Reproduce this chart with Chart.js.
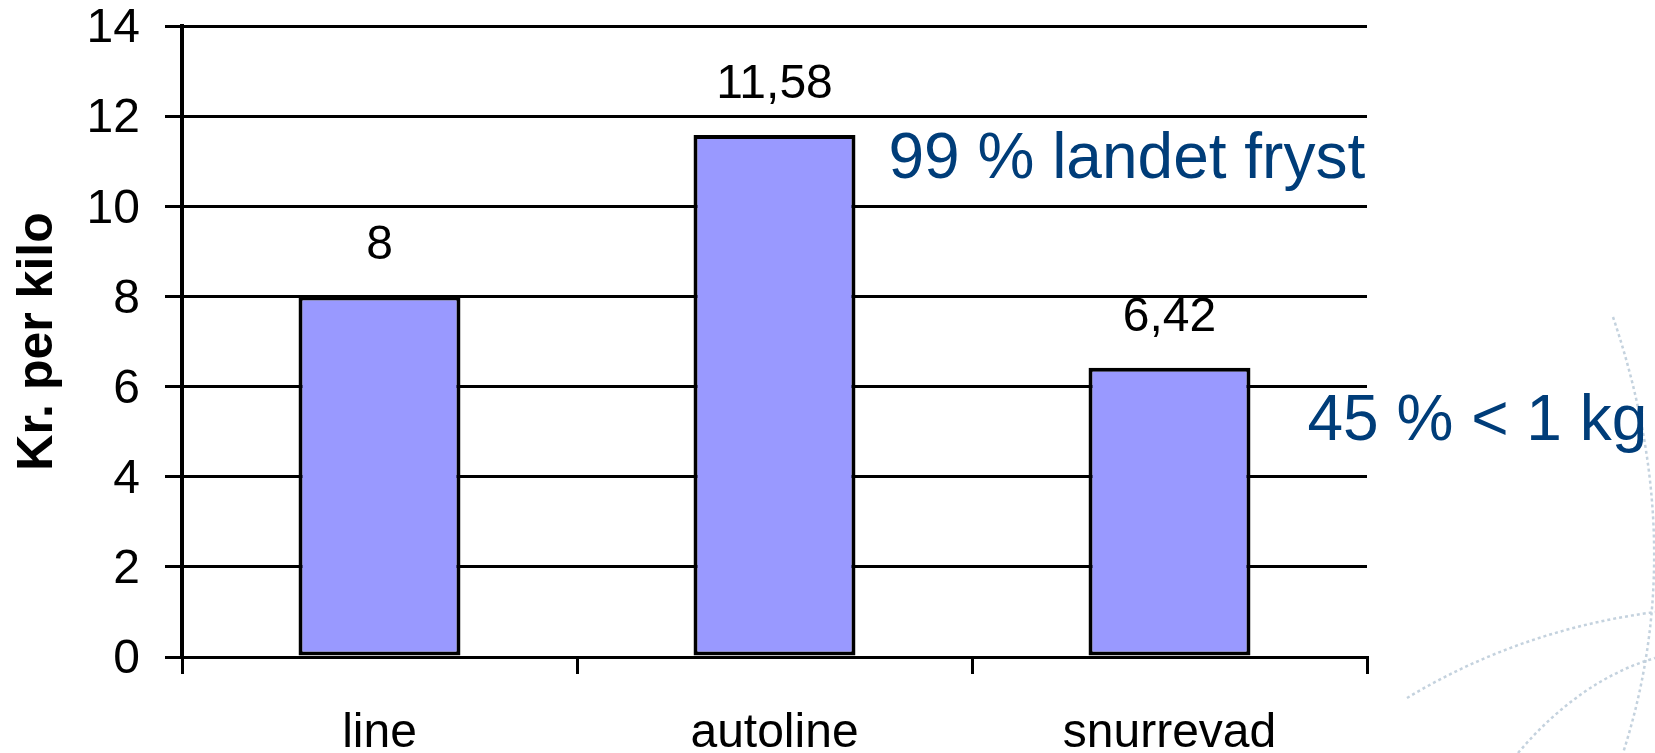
<!DOCTYPE html>
<html>
<head>
<meta charset="utf-8">
<script src="https://cdn.jsdelivr.net/npm/chart.js@4/dist/chart.umd.min.js"></script>
<style>
  html, body { margin: 0; padding: 0; background: #fff; }
</style>
</head>
<body>
<canvas id="barChart" width="1655" height="753"></canvas>
<script>
var categories = ["line", "autoline", "snurrevad"];
var values = [8, 11.58, 6.42];
var yTicks = [0, 2, 4, 6, 8, 10, 12, 14];
var notes = ["99 % landet fryst", "45 % < 1 kg"];

var FONT = "'Liberation Sans', Arial, sans-serif";

// faint dotted globe lines from the slide background
var backdrop = {
  id: "backdrop",
  beforeDraw: function(chart) {
    var ctx = chart.ctx;
    ctx.save();
    ctx.strokeStyle = "#c4d2de";
    ctx.lineWidth = 2.5;
    ctx.setLineDash([3, 3]);
    ctx.beginPath();
    ctx.moveTo(1613, 317);
    ctx.quadraticCurveTo(1690, 545, 1623, 753);
    ctx.moveTo(1407, 698);
    ctx.quadraticCurveTo(1520, 630, 1655, 612);
    ctx.moveTo(1518, 753);
    ctx.quadraticCurveTo(1580, 680, 1655, 658);
    ctx.stroke();
    ctx.restore();
  }
};

// value above each bar, comma decimals
var valueLabels = {
  id: "valueLabels",
  afterDatasetsDraw: function(chart) {
    var ctx = chart.ctx;
    var meta = chart.getDatasetMeta(0);
    ctx.save();
    ctx.font = "48px " + FONT;
    ctx.fillStyle = "#000";
    ctx.textAlign = "center";
    ctx.textBaseline = "alphabetic";
    meta.data.forEach(function(bar, i) {
      ctx.fillText(String(values[i]).replace(".", ","), bar.x, bar.y - 37);
    });
    ctx.restore();
  }
};

// blue notes beside autoline and snurrevad
var sideNotes = {
  id: "sideNotes",
  afterDraw: function(chart) {
    var ctx = chart.ctx;
    var meta = chart.getDatasetMeta(0);
    var y = chart.scales.y;
    ctx.save();
    ctx.font = "64px " + FONT;
    ctx.fillStyle = "#003d79";
    ctx.textAlign = "left";
    ctx.textBaseline = "alphabetic";
    var b1 = meta.data[1];
    ctx.fillText(notes[0], b1.x + b1.width / 2 + 33, y.getPixelForValue(10.62));
    var b2 = meta.data[2];
    ctx.fillText(notes[1], b2.x + b2.width / 2 + 57, y.getPixelForValue(4.81));
    ctx.restore();
  }
};

var ctxB = document.getElementById("barChart").getContext("2d");
var myBarChart = new Chart(ctxB, {
  type: "bar",
  data: {
    labels: categories,
    datasets: [
      {
        data: values,
        backgroundColor: "#9999ff",
        borderColor: "#000",
        borderWidth: 4,
        borderSkipped: false,
        barPercentage: 0.41,
        categoryPercentage: 1
      }
    ]
  },
  options: {
    responsive: false,
    animation: false,
    layout: { padding: { top: 26, right: 288, bottom: 0, left: 0 } },
    plugins: {
      legend: { display: false },
      tooltip: { enabled: false }
    },
    scales: {
      x: {
        grid: { drawOnChartArea: false, drawTicks: true, tickLength: 17, color: "#000", lineWidth: 3, offset: true },
        border: { display: true, color: "#000", width: 3 },
        ticks: { color: "#000", font: { family: FONT, size: 48, lineHeight: 1 }, padding: 36 },
        afterFit: function(scale) { scale.height = 96; }
      },
      y: {
        min: yTicks[0],
        max: yTicks[yTicks.length - 1],
        ticks: { stepSize: 2, color: "#000", font: { family: FONT, size: 48, lineHeight: 1 }, padding: 25, labelOffset: 3 },
        grid: { color: "#000", lineWidth: 3, tickLength: 17, drawTicks: true },
        border: { display: true, color: "#000", width: 4 },
        title: {
          display: true,
          text: "Kr. per kilo",
          color: "#000",
          font: { family: FONT, size: 50, weight: "bold" },
          padding: { top: 8, bottom: 0 }
        },
        afterFit: function(scale) {
          scale.width = 182;
          scale.paddingTop = 0;
          scale.paddingBottom = 0;
        }
      }
    }
  },
  plugins: [backdrop, valueLabels, sideNotes]
});
</script>
</body>
</html>
